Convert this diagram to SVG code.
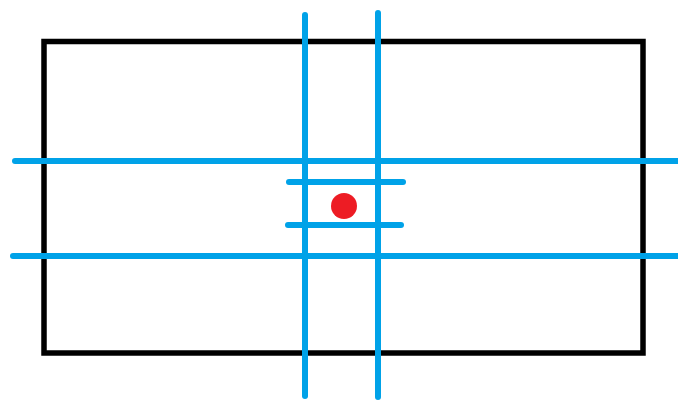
<svg xmlns="http://www.w3.org/2000/svg" width="678" height="401" viewBox="0 0 678 401">
<style>
.frame{fill:none;stroke:#000;stroke-width:5.5}
.blue{stroke:#00A2E8;stroke-width:6;stroke-linecap:round;fill:none}
</style>
<rect width="678" height="401" fill="#fff"/>
<g id="frame"><rect class="frame" x="44" y="41.5" width="599" height="311.5"/></g>
<g id="connectors">
<line class="blue" x1="305" y1="15" x2="305" y2="396"/>
<line class="blue" x1="378" y1="13" x2="378" y2="397"/>
<line class="blue" x1="15" y1="161" x2="684" y2="161"/>
<line class="blue" x1="13" y1="256" x2="684" y2="256"/>
<line class="blue" x1="289" y1="182" x2="403" y2="182"/>
<line class="blue" x1="288" y1="225" x2="401" y2="225"/>
</g>
<g id="point"><circle cx="344" cy="206" r="13" fill="#ED1C24"/></g>
</svg>
